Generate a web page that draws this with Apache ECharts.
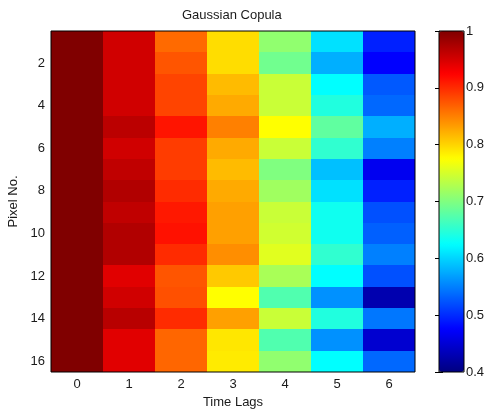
<!DOCTYPE html>
<html>
<head>
<meta charset="utf-8">
<script src="https://cdn.jsdelivr.net/npm/echarts@6/dist/echarts.min.js"></script>
<style>
  html, body { margin: 0; padding: 0; background: #fff; }
  #chart { width: 487px; height: 409px; }
</style>
</head>
<body>
<div id="chart"></div>
<script>
// Time lags along x, pixel numbers along y
const lags = ['0', '1', '2', '3', '4', '5', '6'];
const pixels = ['1','2','3','4','5','6','7','8','9','10','11','12','13','14','15','16'];

// Copula correlation for each lag, pixel 1..16
const lag0 = [1,1,1,1,1,1,1,1,1,1,1,1,1,1,1,1];
const lag1 = [0.953,0.953,0.953,0.953,0.965,0.953,0.962,0.971,0.962,0.971,0.971,0.943,0.953,0.967,0.943,0.943];
const lag2 = [0.863,0.875,0.885,0.885,0.913,0.890,0.890,0.900,0.911,0.915,0.900,0.875,0.878,0.900,0.865,0.865];
const lag3 = [0.795,0.795,0.815,0.825,0.850,0.825,0.815,0.825,0.831,0.831,0.842,0.807,0.775,0.831,0.789,0.787];
const lag4 = [0.710,0.691,0.743,0.743,0.775,0.743,0.700,0.719,0.743,0.747,0.757,0.724,0.672,0.743,0.672,0.710];
const lag5 = [0.607,0.578,0.625,0.644,0.681,0.653,0.588,0.607,0.634,0.634,0.653,0.625,0.560,0.644,0.560,0.625];
const lag6 = [0.494,0.475,0.527,0.536,0.578,0.550,0.466,0.494,0.522,0.531,0.550,0.522,0.428,0.545,0.447,0.536];

// Colour scale range and its ticks
const scaleMin = 0.4;
const scaleMax = 1;
const scaleStep = 0.1;

const columns = [lag0, lag1, lag2, lag3, lag4, lag5, lag6];
const cells = [];
columns.forEach((col, x) => col.forEach((v, y) => cells.push([x, y, v])));

const font = 'Liberation Sans, Arial, sans-serif';
const fs = 13;
const txt = '#1a1a1a';
const evenOnly = (i) => i % 2 === 1;
const inTick = { show: true, inside: true, length: 4, lineStyle: { color: '#000' } };

// Cells snapped to whole pixels so neighbouring blocks meet without seams
function renderCell(params, api) {
  const c = api.coord([api.value(0), api.value(1)]);
  const s = api.size([1, 1]);
  const x0 = Math.round(c[0] - s[0] / 2), x1 = Math.round(c[0] + s[0] / 2);
  const y0 = Math.round(c[1] - s[1] / 2), y1 = Math.round(c[1] + s[1] / 2);
  return {
    type: 'rect',
    shape: { x: x0, y: y0, width: x1 - x0, height: y1 - y0 },
    style: { fill: api.visual('color') }
  };
}

const chart = echarts.init(document.getElementById('chart'), null, { renderer: 'canvas' });
chart.setOption({
  animation: false,
  backgroundColor: '#fff',
  title: {
    text: 'Gaussian Copula',
    left: 182, top: 9, padding: 0,
    textStyle: { fontFamily: font, fontSize: fs, fontWeight: 'normal', color: txt }
  },
  grid: [
    { left: 51, top: 31, width: 364, height: 341, outerBoundsMode: 'none', containLabel: false, show: true, borderColor: '#000', borderWidth: 1, backgroundColor: 'transparent', z: 5 },
    { left: 439, top: 31, width: 25, height: 341, outerBoundsMode: 'none', containLabel: false, show: true, borderColor: '#000', borderWidth: 1, backgroundColor: 'transparent', z: 5 }
  ],
  xAxis: [
    {
      type: 'category', data: lags, gridIndex: 0, position: 'bottom',
      name: 'Time Lags', nameLocation: 'middle', nameGap: 24,
      nameTextStyle: { fontFamily: font, fontSize: fs, color: txt },
      axisLine: { show: false },
      axisTick: Object.assign({ alignWithLabel: true }, inTick),
      axisLabel: { fontFamily: font, fontSize: fs, color: txt, margin: 6 },
      splitLine: { show: false }
    },
    {
      type: 'category', data: lags, gridIndex: 0, position: 'top',
      axisLine: { show: false },
      axisTick: Object.assign({ alignWithLabel: true }, inTick),
      axisLabel: { show: false }, splitLine: { show: false }
    },
    { type: 'value', gridIndex: 1, min: 0, max: 1, show: false }
  ],
  yAxis: [
    {
      type: 'category', data: pixels, gridIndex: 0, inverse: true, position: 'left',
      name: 'Pixel No.', nameLocation: 'middle', nameGap: 21, nameRotate: 90,
      nameTextStyle: { fontFamily: font, fontSize: fs, color: txt },
      axisLine: { show: false },
      axisTick: Object.assign({ alignWithLabel: true, interval: evenOnly }, inTick),
      axisLabel: { fontFamily: font, fontSize: fs, color: txt, margin: 6, interval: evenOnly },
      splitLine: { show: false }
    },
    {
      type: 'category', data: pixels, gridIndex: 0, inverse: true, position: 'right',
      axisLine: { show: false },
      axisTick: Object.assign({ alignWithLabel: true, interval: evenOnly }, inTick),
      axisLabel: { show: false }, splitLine: { show: false }
    },
    {
      type: 'value', gridIndex: 1, position: 'right', min: scaleMin, max: scaleMax, interval: scaleStep,
      axisLine: { show: false },
      axisTick: inTick,
      axisLabel: { fontFamily: font, fontSize: fs, color: txt, margin: 2, formatter: (v) => String(+v.toFixed(1)) },
      splitLine: { show: false }
    },
    {
      type: 'value', gridIndex: 1, position: 'left', min: scaleMin, max: scaleMax, interval: scaleStep,
      axisLine: { show: false },
      axisTick: inTick,
      axisLabel: { show: false }, splitLine: { show: false }
    }
  ],
  visualMap: {
    type: 'continuous', min: scaleMin, max: scaleMax, seriesIndex: 0, dimension: 2,
    calculable: false, orient: 'vertical', left: 439, top: 31, padding: 0,
    itemWidth: 25, itemHeight: 341, text: null, showLabel: false,
    inRange: {
      color: ['#000080', '#0000ff', '#0080ff', '#00ffff', '#80ff80', '#ffff00', '#ff8000', '#ff0000', '#800000']
    }
  },
  series: [
    {
      type: 'custom', xAxisIndex: 0, yAxisIndex: 0, data: cells,
      renderItem: renderCell,
      encode: { x: 0, y: 1 },
      emphasis: { disabled: true }
    }
  ]
});
</script>
</body>
</html>
